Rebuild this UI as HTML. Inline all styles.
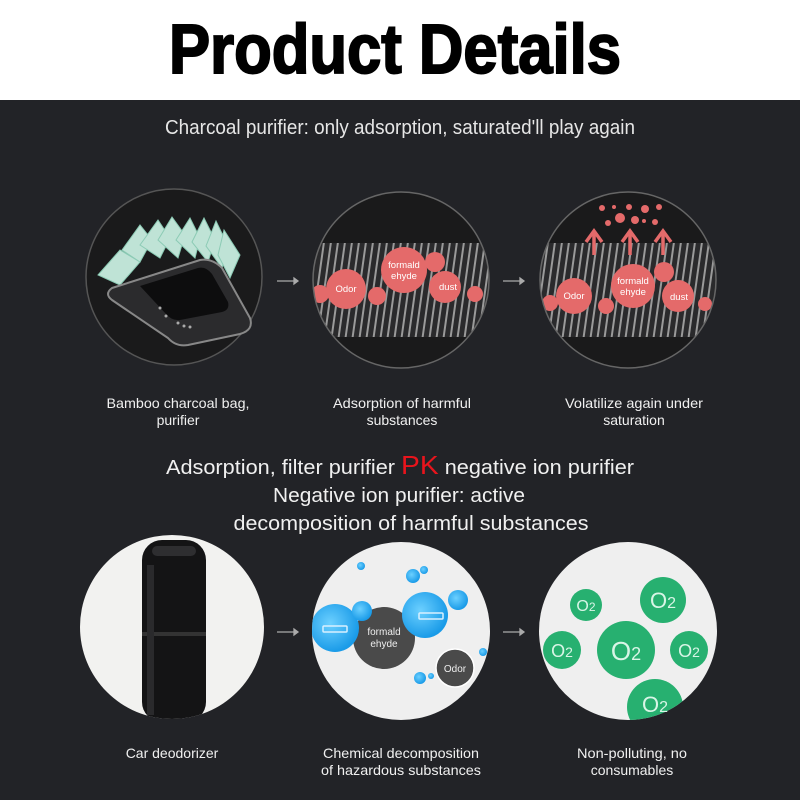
<!DOCTYPE html>
<html><head><meta charset="utf-8"><style>
html,body{margin:0;padding:0;background:#222327;}
svg{display:block;}
</style></head><body>
<svg width="800" height="800" viewBox="0 0 800 800" xmlns="http://www.w3.org/2000/svg" font-family="Liberation Sans, Arial, sans-serif">
<defs>
  <pattern id="hatch" width="7" height="100" patternUnits="userSpaceOnUse" patternTransform="skewX(-8)">
    <rect width="7" height="100" fill="#2a2a2c"/>
    <rect x="0" width="2" height="100" fill="#9a9a9a"/>
  </pattern>
  <clipPath id="c1b"><circle cx="172" cy="627" r="92"/></clipPath>
  <clipPath id="c2"><circle cx="401" cy="280" r="88"/></clipPath>
  <clipPath id="c3"><circle cx="628" cy="280" r="88"/></clipPath>
  <clipPath id="c5"><circle cx="401" cy="631" r="89"/></clipPath>
  <clipPath id="c6"><circle cx="628" cy="631" r="89"/></clipPath>
  <radialGradient id="blue" cx="0.4" cy="0.4" r="0.6">
    <stop offset="0" stop-color="#6cd0ff"/><stop offset="1" stop-color="#1a9be8"/>
  </radialGradient>
</defs>
<rect width="800" height="800" fill="#222327"/>
<rect width="800" height="100" fill="#ffffff"/>
<text x="395" y="73" text-anchor="middle" font-size="70" font-weight="bold" fill="#000" stroke="#000" stroke-width="2" textLength="452" lengthAdjust="spacingAndGlyphs">Product Details</text>

<text x="400" y="134" text-anchor="middle" font-size="20" fill="#e6e6e6" textLength="470" lengthAdjust="spacingAndGlyphs">Charcoal purifier: only adsorption, saturated'll play again</text>

<!-- circle 1 top -->
<circle cx="174" cy="277" r="88" fill="#1a1a1b" stroke="#555" stroke-width="1.5"/>
<g fill="#bfe3d6" stroke="#8ccbb5" stroke-width="1">
  <path d="M98 275 L120 250 L140 262 L120 285 Z"/>
  <path d="M122 250 L140 225 L152 240 L140 262 Z"/>
  <path d="M140 245 L158 220 L170 238 L160 258 Z"/>
  <path d="M158 240 L172 217 L185 235 L178 258 Z"/>
  <path d="M176 240 L190 218 L200 238 L195 258 Z"/>
  <path d="M192 242 L204 218 L215 240 L208 262 Z"/>
  <path d="M206 246 L216 221 L228 246 L222 268 Z"/>
  <path d="M218 255 L224 230 L240 255 L230 278 Z"/>
</g>
<path d="M112 288 L200 260 Q212 258 222 268 L250 318 Q254 330 240 334 L188 345 Q176 347 168 338 L112 300 Q104 294 112 288 Z" fill="#2b2b2d" stroke="#888" stroke-width="2"/>
<path d="M140 286 L198 268 Q206 266 212 274 L228 302 Q230 310 222 312 L180 320 Q172 321 166 314 Z" fill="#0d0d0e"/>
<g fill="#aaa"><circle cx="160" cy="308" r="1.5"/><circle cx="166" cy="316" r="1.5"/><circle cx="178" cy="323" r="1.5"/><circle cx="184" cy="326" r="1.5"/><circle cx="190" cy="327" r="1.5"/></g>

<!-- circle 2 top -->
<g clip-path="url(#c2)">
  <rect x="300" y="190" width="200" height="190" fill="#1a1a1b"/>
  <rect x="300" y="243" width="200" height="94" fill="url(#hatch)"/>
  <g fill="#e46a6a">
    <circle cx="320" cy="294" r="9"/>
    <circle cx="346" cy="289" r="20"/>
    <circle cx="377" cy="296" r="9"/>
    <circle cx="404" cy="270" r="23"/>
    <circle cx="435" cy="262" r="10"/>
    <circle cx="445" cy="287" r="16"/>
    <circle cx="475" cy="294" r="8"/>
  </g>
</g>
<circle cx="401" cy="280" r="88" fill="none" stroke="#666" stroke-width="1.5"/>
<g fill="#fff" font-size="9.5" text-anchor="middle">
  <text x="346" y="292">Odor</text>
  <text x="404" y="268">formald</text><text x="404" y="279">ehyde</text>
  <text x="448" y="290">dust</text>
</g>

<!-- circle 3 top -->
<g clip-path="url(#c3)">
  <rect x="530" y="190" width="200" height="190" fill="#1a1a1b"/>
  <rect x="530" y="243" width="200" height="94" fill="url(#hatch)"/>
  <g fill="#e46a6a">
    <circle cx="550" cy="303" r="8"/>
    <circle cx="574" cy="296" r="18"/>
    <circle cx="606" cy="306" r="8"/>
    <circle cx="633" cy="286" r="22"/>
    <circle cx="664" cy="272" r="10"/>
    <circle cx="678" cy="296" r="16"/>
    <circle cx="705" cy="304" r="7"/>
    <circle cx="602" cy="208" r="3"/><circle cx="614" cy="207" r="2"/><circle cx="629" cy="207" r="3"/><circle cx="645" cy="209" r="4"/><circle cx="659" cy="207" r="3"/>
    <circle cx="608" cy="223" r="3"/><circle cx="620" cy="218" r="5"/><circle cx="635" cy="220" r="4"/><circle cx="644" cy="221" r="2"/><circle cx="655" cy="222" r="3"/>
  </g>
  <g stroke="#e46a6a" stroke-width="3.5" fill="none">
    <path d="M594 255 V234 M586 242 L594 231 L602 242"/>
    <path d="M630 255 V234 M622 242 L630 231 L638 242"/>
    <path d="M663 255 V234 M655 242 L663 231 L671 242"/>
  </g>
</g>
<circle cx="628" cy="280" r="88" fill="none" stroke="#666" stroke-width="1.5"/>
<g fill="#fff" font-size="9.5" text-anchor="middle">
  <text x="574" y="299">Odor</text>
  <text x="633" y="284">formald</text><text x="633" y="295">ehyde</text>
  <text x="679" y="300">dust</text>
</g>

<!-- arrows -->
<g stroke="#aaa" stroke-width="1.3" fill="#aaa">
  <line x1="277" y1="281" x2="294" y2="281"/><path d="M294 278 L298 281 L294 284 Z"/>
  <line x1="503" y1="281" x2="520" y2="281"/><path d="M520 278 L524 281 L520 284 Z"/>
  <line x1="277" y1="632" x2="294" y2="632"/><path d="M294 629 L298 632 L294 635 Z"/>
  <line x1="503" y1="632" x2="520" y2="632"/><path d="M520 629 L524 632 L520 635 Z"/>
</g>

<g fill="#f0f0f0" font-size="14" text-anchor="middle">
  <text x="178" y="408" textLength="143" lengthAdjust="spacingAndGlyphs">Bamboo charcoal bag,</text>
  <text x="178" y="425">purifier</text>
  <text x="402" y="408" textLength="138" lengthAdjust="spacingAndGlyphs">Adsorption of harmful</text>
  <text x="402" y="425">substances</text>
  <text x="634" y="408" textLength="138" lengthAdjust="spacingAndGlyphs">Volatilize again under</text>
  <text x="634" y="425">saturation</text>
</g>

<g fill="#f0f0f0" font-size="20" text-anchor="middle">
  <text x="400" y="474" textLength="468" lengthAdjust="spacingAndGlyphs">Adsorption, filter purifier <tspan fill="#e8141c" font-size="26">PK</tspan> negative ion purifier</text>
  <text x="399" y="502" textLength="252" lengthAdjust="spacingAndGlyphs">Negative ion purifier: active</text>
  <text x="411" y="530" textLength="355" lengthAdjust="spacingAndGlyphs">decomposition of harmful substances</text>
</g>

<!-- circle 1 bottom -->
<circle cx="172" cy="627" r="92" fill="#f2f2f0"/>
<g clip-path="url(#c1b)">
  <rect x="142" y="540" width="64" height="182" rx="20" fill="#141415"/>
  <rect x="142" y="632" width="64" height="4" fill="#333"/>
  <rect x="152" y="546" width="44" height="10" rx="5" fill="#2e2e30"/>
  <rect x="147" y="565" width="7" height="150" fill="#2a2a2c"/>
</g>

<!-- circle 2 bottom -->
<g clip-path="url(#c5)">
  <rect x="300" y="530" width="200" height="200" fill="#efefef"/>
  <circle cx="384" cy="638" r="31" fill="#4a4a4a"/>
  <circle cx="455" cy="668" r="19" fill="#4a4a4a" stroke="#fff" stroke-width="1.5"/>
  <circle cx="335" cy="628" r="24" fill="url(#blue)"/>
  <circle cx="425" cy="615" r="23" fill="url(#blue)"/>
  <circle cx="362" cy="611" r="10" fill="url(#blue)"/>
  <circle cx="458" cy="600" r="10" fill="url(#blue)"/>
  <circle cx="413" cy="576" r="7" fill="url(#blue)"/>
  <circle cx="424" cy="570" r="4" fill="url(#blue)"/>
  <circle cx="361" cy="566" r="4" fill="url(#blue)"/>
  <circle cx="420" cy="678" r="6" fill="url(#blue)"/>
  <circle cx="431" cy="676" r="3" fill="url(#blue)"/>
  <circle cx="483" cy="652" r="4" fill="url(#blue)"/>
  <rect x="323" y="626" width="24" height="6" rx="1" fill="none" stroke="#d8f0ff" stroke-width="1.5"/>
  <rect x="419" y="613" width="24" height="6" rx="1" fill="none" stroke="#d8f0ff" stroke-width="1.5"/>
</g>
<g fill="#eee" text-anchor="middle" font-size="10">
  <text x="384" y="635">formald</text><text x="384" y="647">ehyde</text>
  <text x="455" y="672">Odor</text>
</g>

<!-- circle 3 bottom -->
<g clip-path="url(#c6)">
  <rect x="530" y="530" width="200" height="200" fill="#efefef"/>
  <g fill="#27b070">
    <circle cx="586" cy="605" r="16"/>
    <circle cx="663" cy="600" r="23"/>
    <circle cx="562" cy="650" r="19"/>
    <circle cx="626" cy="650" r="29"/>
    <circle cx="689" cy="650" r="19"/>
    <circle cx="655" cy="707" r="28"/>
  </g>
</g>
<g fill="#d8f5e6" text-anchor="middle">
  <text x="586" y="611" font-size="16">O<tspan font-size="12">2</tspan></text>
  <text x="663" y="608" font-size="22">O<tspan font-size="16">2</tspan></text>
  <text x="562" y="657" font-size="18">O<tspan font-size="14">2</tspan></text>
  <text x="626" y="660" font-size="26">O<tspan font-size="18">2</tspan></text>
  <text x="689" y="657" font-size="18">O<tspan font-size="14">2</tspan></text>
  <text x="655" y="712" font-size="22">O<tspan font-size="16">2</tspan></text>
</g>

<g fill="#f0f0f0" font-size="14" text-anchor="middle">
  <text x="172" y="758">Car deodorizer</text>
  <text x="401" y="758" textLength="156" lengthAdjust="spacingAndGlyphs">Chemical decomposition</text>
  <text x="401" y="775" textLength="160" lengthAdjust="spacingAndGlyphs">of hazardous substances</text>
  <text x="632" y="758" textLength="110" lengthAdjust="spacingAndGlyphs">Non-polluting, no</text>
  <text x="632" y="775">consumables</text>
</g>
</svg>
</body></html>
